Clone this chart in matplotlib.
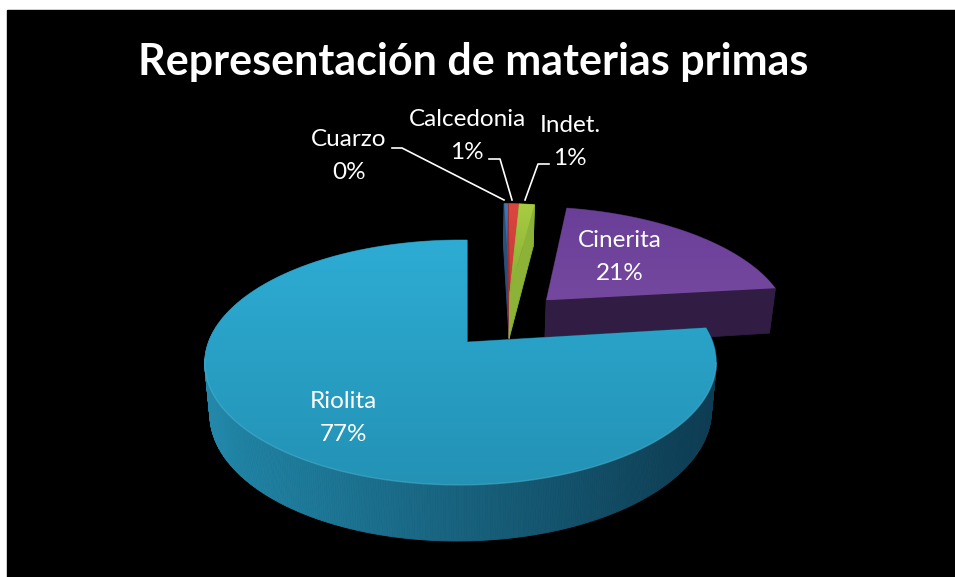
import numpy as np
import matplotlib
matplotlib.use('Agg')
import matplotlib.pyplot as plt
from matplotlib.colors import to_rgb
from matplotlib.patches import Polygon, Rectangle

# Chart data, clockwise from 12 o'clock
categories = ['Cuarzo', 'Calcedonia', 'Indet.', 'Cinerita', 'Riolita']
values = [0.35, 0.85, 1.2, 20.6, 77.0]

title = 'Representación de materias primas'

# explosion of each slice, in pie radii (right, back), and slice radius
explode_u = [0.184, 0.184, 0.184, 0.337, 0.0]
explode_v = [0.452, 0.452, 0.452, 0.375, 0.0]
radius = [1.0, 1.0, 1.0, 1.04, 1.0]

top_hi = ['#3f77b5', '#dc4640', '#a9cc42', '#6a3f98', '#2eacd4']
top_lo = ['#34639a', '#c23a36', '#86ad35', '#75489f', '#2392b5']
wall_left = ['#2c4e7c', '#a52f2c', '#8db238', '#38204f', '#2288aa']
wall_right = ['#2c4e7c', '#a52f2c', '#8db238', '#2a1838', '#0e3c52']

# view of the pie on the page
cx, cy = 467, 342
rx, ry = 252, 119
persp_v, persp_u = 0.167, 0.025
depth = 50

plt.rcParams['font.family'] = ['Lato', 'DejaVu Sans']

fig = plt.figure(figsize=(9.55, 5.77), dpi=100, facecolor='white')
ax = fig.add_axes([0, 0, 1, 1])
ax.set_xlim(0, 955)
ax.set_ylim(577, 0)
ax.axis('off')
ax.add_patch(Rectangle((7, 10), 948, 567, color='black', zorder=0))


def project(u, v, z=0.0):
    w = (1 + persp_v * v + persp_u * u) * (1 + 0.02 * z)
    return cx + rx * u / w, cy - ry * v / w + depth * z / w


def gradient_top(xs, ys, hi, lo, zorder):
    # vertical gradient clipped to the slice outline
    y0, y1 = ys.min(), ys.max()
    ramp = np.linspace(0, 1, 128)[:, None, None]
    img = (1 - ramp) * np.array(to_rgb(hi)) + ramp * np.array(to_rgb(lo))
    im = ax.imshow(img, extent=(xs.min(), xs.max(), y1, y0), aspect='auto',
                   interpolation='bilinear', zorder=zorder)
    clip = Polygon(np.column_stack([xs, ys]), closed=True, transform=ax.transData,
                   facecolor='none', edgecolor='none')
    ax.add_patch(clip)
    im.set_clip_path(clip)
    ax.set_xlim(0, 955)
    ax.set_ylim(577, 0)


def draw_slice(i, start, sweep, zorder):
    th = np.radians(np.linspace(start, start + sweep, max(int(sweep * 2), 8)))
    u0, v0 = explode_u[i], explode_v[i]
    u = np.r_[u0, u0 + radius[i] * np.sin(th), u0]
    v = np.r_[v0, v0 + radius[i] * np.cos(th), v0]
    xt, yt = project(u, v)
    xb, yb = project(u, v, 1.0)
    # walls: one small quad per step, shaded from left to right
    c0, c1 = np.array(to_rgb(wall_left[i])), np.array(to_rgb(wall_right[i]))
    span = max(xt.max() - xt.min(), 1)
    for k in range(len(xt) - 1):
        t = ((xt[k] + xt[k + 1]) / 2 - xt.min()) / span
        col = (1 - t) * c0 + t * c1
        ax.fill([xt[k], xt[k + 1], xb[k + 1], xb[k]], [yt[k], yt[k + 1], yb[k + 1], yb[k]],
                color=col, lw=0.6, zorder=zorder)
    gradient_top(xt, yt, top_hi[i], top_lo[i], zorder + 0.5)


sweeps = np.array(values) / sum(values) * 360
starts = np.r_[0, np.cumsum(sweeps)[:-1]]

# back slices first, the big slice last
for i, z in zip([3, 0, 1, 2, 4], [2, 3, 4, 5, 6]):
    draw_slice(i, starts[i], sweeps[i], z)

# lit rim along the front edge of the big slice
th = np.radians(np.linspace(100, 262, 200))
rim_x, rim_y = project(np.sin(th), np.cos(th))
ax.plot(rim_x, rim_y, color='#4fb6d4', lw=1.0, alpha=0.5, zorder=7)

# leader lines
ax.plot([392, 402, 504], [148, 148, 200], color='white', lw=1.2, zorder=8)
ax.plot([489, 500, 512], [159, 159, 200], color='white', lw=1.2, zorder=8)
ax.plot([549, 538, 525], [164, 164, 200], color='white', lw=1.2, zorder=8)

ax.text(473, 62, title, color='white', fontsize=31, fontweight='bold',
        ha='center', va='center', zorder=9)

label_pos = [(349, 156), (467, 136), (570, 142), (620, 257), (343, 418)]
for name, val, (lx, ly) in zip(categories, values, label_pos):
    ax.text(lx, ly, f'{name}\n{round(val)}%', color='white', fontsize=17.5,
            ha='center', va='center', linespacing=1.65, zorder=9)

fig.savefig('out.png', dpi=100, facecolor='white')
